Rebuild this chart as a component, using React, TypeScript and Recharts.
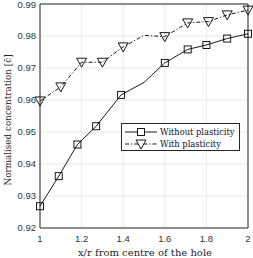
import { LineChart, Line, XAxis, YAxis, CartesianGrid, Legend, ReferenceLine } from "recharts";

// x/r positions and normalised concentration
const xWithout = [1, 1.09, 1.18, 1.27, 1.39, 1.5, 1.6, 1.71, 1.8, 1.9, 2];
const yWithout = [0.9268, 0.9362, 0.9461, 0.9518, 0.9616, 0.9655, 0.9716, 0.9758, 0.9772, 0.9792, 0.9807];
const xWith = [1, 1.1, 1.2, 1.3, 1.4, 1.5, 1.6, 1.71, 1.81, 1.9, 2];
const yWith = [0.9597, 0.9641, 0.9718, 0.9718, 0.9766, 0.9802, 0.9798, 0.9841, 0.9845, 0.9866, 0.9881];

const xTicks = [1, 1.2, 1.4, 1.6, 1.8, 2];
const yTicks = [0.92, 0.93, 0.94, 0.95, 0.96, 0.97, 0.98, 0.99];

const withoutData = xWithout.map((x, i) => ({ x, y: yWithout[i] }));
const withData = xWith.map((x, i) => ({ x, y: yWith[i] }));

const INK = "#262626";
const SERIF = "'DejaVu Serif', serif";
const SANS = "'Liberation Sans', Arial, sans-serif";
const DASHDOT = "4 2 1.2 2";

// no marker on the 1.5 point in the original
const SKIP = 5;

const SquareDot = (props: any) => {
    const { cx, cy, index } = props;
    if (index === SKIP) return <g key={index} />;
    return (
        <rect key={index} x={cx - 3.5} y={cy - 3.5} width={7} height={7}
            fill="none" stroke="#000" strokeWidth={0.9} />
    );
};

const TriDot = (props: any) => {
    const { cx, cy, index } = props;
    if (index === SKIP) return <g key={index} />;
    return (
        <polygon key={index}
            points={`${cx - 5},${cy - 4} ${cx + 5},${cy - 4} ${cx},${cy + 5}`}
            fill="none" stroke="#000" strokeWidth={0.9} />
    );
};

const LegendBox = () => (
    <div style={{
        width: 119, height: 28, border: `1px solid ${INK}`, background: "#fff",
        boxSizing: "border-box", fontFamily: SERIF, fontSize: 8.3, color: "#111",
        paddingTop: 2,
    }}>
        <div style={{ display: "flex", alignItems: "center", height: 12 }}>
            <svg width={37} height={12}>
                <line x1={3} x2={35} y1={6} y2={6} stroke="#000" strokeWidth={0.9} />
                <rect x={15.5} y={2.5} width={7} height={7} fill="#fff" stroke="#000" strokeWidth={0.9} />
            </svg>
            <span style={{ marginLeft: 1 }}>Without plasticity</span>
        </div>
        <div style={{ display: "flex", alignItems: "center", height: 12 }}>
            <svg width={37} height={12}>
                <line x1={3} x2={35} y1={6} y2={6} stroke="#000" strokeWidth={0.9} strokeDasharray={DASHDOT} />
                <polygon points="14,2 24,2 19,11" fill="#fff" stroke="#000" strokeWidth={0.9} />
            </svg>
            <span style={{ marginLeft: 1 }}>With plasticity</span>
        </div>
    </div>
);

export default function App() {
    return (
        <div style={{ position: "absolute", left: 0, top: 0, background: "#fff" }}>
            <LineChart width={253} height={258} margin={{ top: 4, right: 5, bottom: 0, left: 0 }}>
                <CartesianGrid stroke="#e3e3e3" strokeWidth={0.8} />
                <XAxis
                    dataKey="x"
                    type="number"
                    domain={[1, 2]}
                    ticks={xTicks}
                    height={30}
                    stroke={INK}
                    tickLine={false}
                    tickSize={5}
                    tickMargin={2}
                    tick={{ fill: "#333", fontSize: 9.5, fontFamily: SANS }}
                    tickFormatter={(v: number) => String(v)}
                    label={{
                        content: () => (
                            <text x={145} y={256} textAnchor="middle" fontFamily={SERIF}
                                fontSize={10} fill={INK}>
                                x/r from centre of the hole
                            </text>
                        ),
                    }}
                />
                <YAxis
                    type="number"
                    domain={[0.92, 0.99]}
                    ticks={yTicks}
                    width={40}
                    stroke={INK}
                    tickLine={false}
                    tickSize={2}
                    tickMargin={2}
                    tick={{ fill: "#333", fontSize: 9.5, fontFamily: SANS }}
                    tickFormatter={(v: number) => v.toFixed(2)}
                    label={{
                        content: () => (
                            <text x={11} y={120} transform="rotate(-90 11 120)" textAnchor="middle"
                                fontFamily={SERIF} fontSize={8.8} fill={INK}>
                                Normalised concentration [c̄]
                            </text>
                        ),
                    }}
                />
                <ReferenceLine y={0.99} stroke={INK} />
                <ReferenceLine x={2} stroke={INK} />
                <Line
                    data={withoutData}
                    dataKey="y"
                    name="Without plasticity"
                    stroke="#000"
                    strokeWidth={0.9}
                    dot={SquareDot}
                    isAnimationActive={false}
                />
                <Line
                    data={withData}
                    dataKey="y"
                    name="With plasticity"
                    stroke="#000"
                    strokeWidth={0.9}
                    strokeDasharray={DASHDOT}
                    dot={TriDot}
                    isAnimationActive={false}
                />
                <Legend
                    layout="horizontal"
                    verticalAlign="middle"
                    align="center"
                    content={LegendBox}
                    wrapperStyle={{ left: 121, top: 123, width: 119, height: 28 }}
                />
            </LineChart>
        </div>
    );
}
